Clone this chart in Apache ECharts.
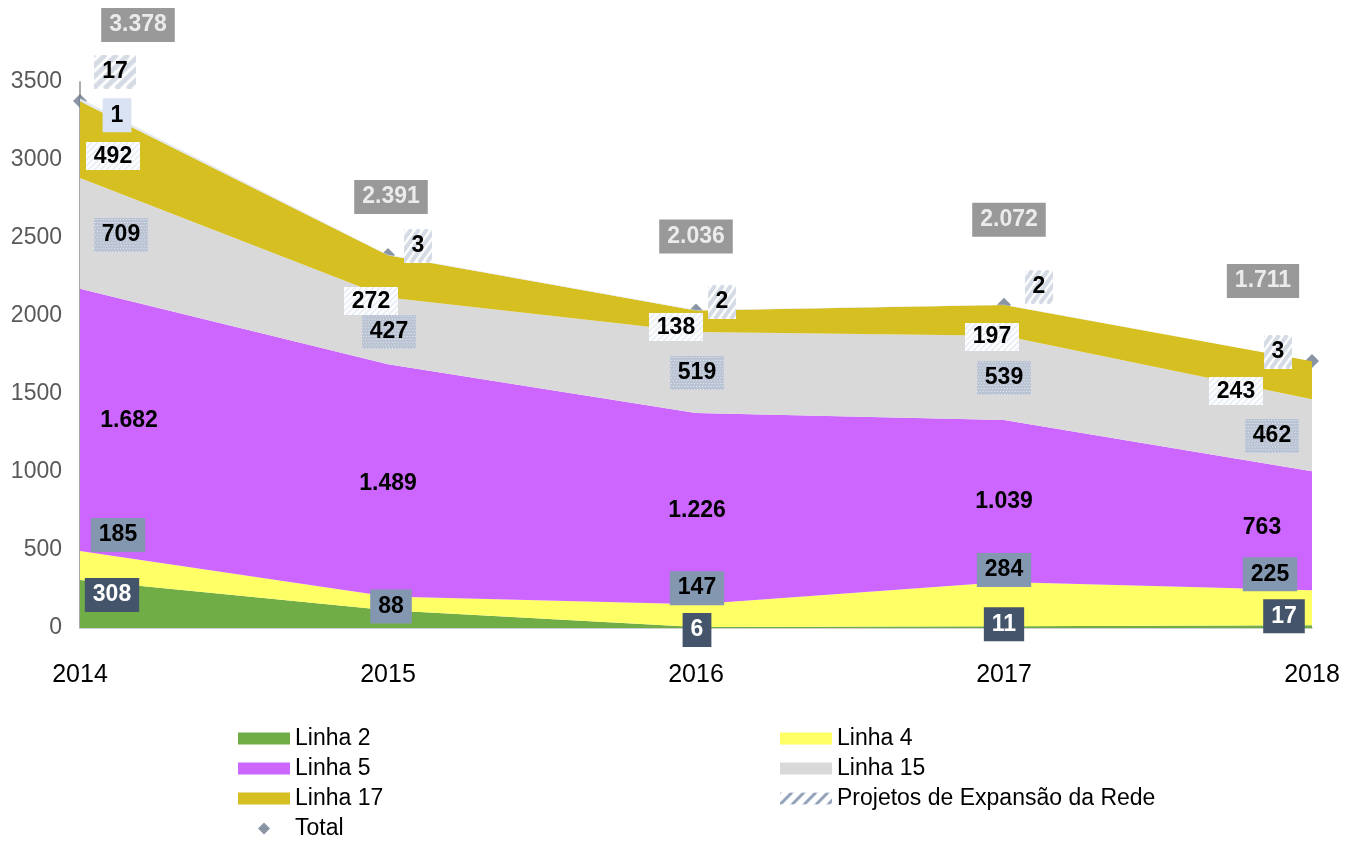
<!DOCTYPE html>
<html>
<head>
<meta charset="utf-8">
<script src="https://cdn.jsdelivr.net/npm/echarts@6/dist/echarts.min.js"></script>
<style>
html, body { margin: 0; padding: 0; background: #fff; }
#main { width: 1349px; height: 841px; }
</style>
</head>
<body>
<div id="main"></div>
<script>
var years = ['2014', '2015', '2016', '2017', '2018'];
var linha2 = [308, 114, 6, 11, 17];
var linha4 = [185, 88, 147, 284, 225];
var linha5 = [1682, 1489, 1226, 1039, 763];
var linha15 = [709, 427, 519, 539, 462];
var linha17 = [492, 272, 138, 197, 243];
var outros = [1, 0, 0, 0, 0];
var projetos = [17, 3, 2, 2, 3];
var total = [3378, 2391, 2036, 2072, 1711];

// label offsets (px) from each stacked point
var off2 = [[32, 15], [1, 2], [1, 3], [0, -2], [-28, -9]];
var off4 = [[38, -16], [3, 10], [1, -16], [0, -12], [-42, -16]];
var off5 = [[49, 132], [0, 119], [1, 98], [0, 82], [-50, 56]];
var off15 = [[41, 57], [1, 34], [1, 41], [0, 42], [-40, 37]];
var off17 = [[33, 55], [-17, 46], [-20, 17], [-12, 32], [-76, 30]];
var offOutros = [[37, 14], [0, 0], [0, 0], [0, 0], [0, 0]];
var offProj = [[35, -27], [30, -9], [26, -8], [35, -18], [-34, -9]];
var offTotal = [[58, -76], [3, -58], [0, -74], [5, -85], [-49, -80]];

var FONT = 'Arial, "Liberation Sans", sans-serif';

function fmt(v) {
    return String(v).replace(/\B(?=(\d{3})+(?!\d))/g, '.');
}

function makeCanvas(w, h, draw) {
    var c = document.createElement('canvas');
    c.width = w;
    c.height = h;
    draw(c.getContext('2d'), w, h);
    return c;
}

// diagonal stripes (Projetos labels)
var stripeBg = makeCanvas(40, 34, function (g, w, h) {
    g.fillStyle = '#ffffff';
    g.fillRect(0, 0, w, h);
    g.strokeStyle = '#d5dbe5';
    g.lineWidth = 5;
    for (var i = -h; i < w + h; i += 11) {
        g.beginPath();
        g.moveTo(i, h);
        g.lineTo(i + h, 0);
        g.stroke();
    }
});

// dotted grey-blue (Linha 15 labels)
var dotBg = makeCanvas(56, 35, function (g, w, h) {
    g.fillStyle = '#b9c3d3';
    g.fillRect(0, 0, w, h);
    g.fillStyle = '#eef1f6';
    for (var y = 1; y < h; y += 3) {
        for (var x = (y % 6 === 1 ? 0 : 1); x < w; x += 3) {
            g.fillRect(x, y, 1, 1);
        }
    }
});

// faint thin hatch (Linha 17 labels)
var faintBg = makeCanvas(54, 28, function (g, w, h) {
    g.fillStyle = '#ffffff';
    g.fillRect(0, 0, w, h);
    g.strokeStyle = '#e3eaf4';
    g.lineWidth = 1.5;
    for (var i = -h; i < w + h; i += 6) {
        g.beginPath();
        g.moveTo(i, h);
        g.lineTo(i + h, 0);
        g.stroke();
    }
});

// legend pattern for Projetos
var projPattern = makeCanvas(12, 12, function (g, w, h) {
    g.fillStyle = '#ffffff';
    g.fillRect(0, 0, w, h);
    g.strokeStyle = '#8e9fb6';
    g.lineWidth = 3;
    for (var i = -h; i < w + h; i += 12) {
        g.beginPath();
        g.moveTo(i, h);
        g.lineTo(i + h, 0);
        g.stroke();
    }
});

var baseLabel = {
    show: true,
    position: 'inside',
    fontSize: 23,
    fontWeight: 'bold',
    fontFamily: FONT,
    lineHeight: 24,
    padding: [5, 8],
    color: '#000',
    formatter: function (p) { return fmt(p.value); }
};

function areaSeries(name, values, color, areaColor, offsets, labelStyle) {
    return {
        name: name,
        type: 'line',
        stack: 'total',
        symbol: 'circle',
        symbolSize: 0,
        showSymbol: true,
        lineStyle: { width: 0 },
        itemStyle: { color: color },
        areaStyle: { color: areaColor, opacity: 1 },
        label: Object.assign({}, baseLabel, labelStyle),
        data: values.map(function (v, i) {
            return { value: v, label: { offset: offsets[i], show: v > 0 } };
        })
    };
}

var s2 = areaSeries('Linha 2', linha2, '#70ad47', '#70ad47', off2, { backgroundColor: '#44546a', color: '#fff' });
// 2015 label of Linha 2 sits under the Linha 4 label without its box
s2.data[1].label.backgroundColor = 'transparent';

var myChart = echarts.init(document.getElementById('main'));

var legendText = { fontSize: 23, fontFamily: FONT, color: '#000' };
var diamondIcon = 'path://M0,-1L1,0L0,1L-1,0Z';

var option = {
    backgroundColor: '#ffffff',
    animation: false,
    grid: { left: 80, right: 37, top: 82, bottom: 213 },
    legend: [
        {
            orient: 'vertical',
            left: 238,
            top: 727,
            padding: 0,
            itemWidth: 52,
            itemHeight: 12,
            itemGap: 7,
            symbolKeepAspect: true,
            selectedMode: false,
            textStyle: legendText,
            data: [
                { name: 'Linha 2', icon: 'rect' },
                { name: 'Linha 5', icon: 'rect' },
                { name: 'Linha 17', icon: 'rect' },
                { name: 'Total', icon: diamondIcon, itemStyle: { color: '#6b7b8f' } }
            ]
        },
        {
            orient: 'vertical',
            left: 780,
            top: 727,
            padding: 0,
            itemWidth: 52,
            itemHeight: 12,
            itemGap: 7,
            selectedMode: false,
            textStyle: legendText,
            data: [
                { name: 'Linha 4', icon: 'rect' },
                { name: 'Linha 15', icon: 'rect' },
                { name: 'Projetos de Expansão da Rede', icon: 'rect' }
            ]
        }
    ],
    xAxis: {
        type: 'category',
        data: years,
        boundaryGap: false,
        axisLine: { lineStyle: { color: '#bfbfbf', width: 1.5 } },
        axisTick: { show: false },
        axisLabel: { fontSize: 25, fontFamily: FONT, color: '#000', margin: 35 },
        splitLine: { show: false }
    },
    yAxis: {
        type: 'value',
        min: 0,
        max: 3500,
        interval: 500,
        axisLine: { show: true, lineStyle: { color: '#8c8c8c', width: 1.5 } },
        axisTick: { show: false },
        axisLabel: {
            fontSize: 23, fontFamily: FONT, color: '#595959', margin: 18,
            formatter: function (v) { return String(v); }
        },
        splitLine: { show: false }
    },
    series: [
        s2,
        areaSeries('Linha 4', linha4, '#ffff66', '#ffff66', off4, { backgroundColor: '#8497b0' }),
        areaSeries('Linha 5', linha5, '#cc66ff', '#cc66ff', off5, {}),
        areaSeries('Linha 15', linha15, '#d9d9d9', '#d9d9d9', off15, { backgroundColor: { image: dotBg } }),
        areaSeries('Linha 17', linha17, '#d6bf20', '#d6bf20', off17, { backgroundColor: { image: faintBg }, padding: [2, 8] }),
        areaSeries('Outros', outros, '#dae3f3', '#dae3f3', offOutros, { backgroundColor: '#dae3f3' }),
        areaSeries('Projetos de Expansão da Rede', projetos,
            { image: projPattern, repeat: 'repeat' }, '#e4e8ef', offProj,
            { backgroundColor: { image: stripeBg } }),
        {
            name: 'Total',
            type: 'scatter',
            symbol: 'diamond',
            symbolSize: 14,
            itemStyle: { color: '#6b7b8f' },
            label: Object.assign({}, baseLabel, { backgroundColor: '#7f7f7f', color: '#fff' }),
            data: total.map(function (v, i) {
                return { value: v, label: { offset: offTotal[i] } };
            })
        }
    ]
};

myChart.setOption(option);
</script>
</body>
</html>
